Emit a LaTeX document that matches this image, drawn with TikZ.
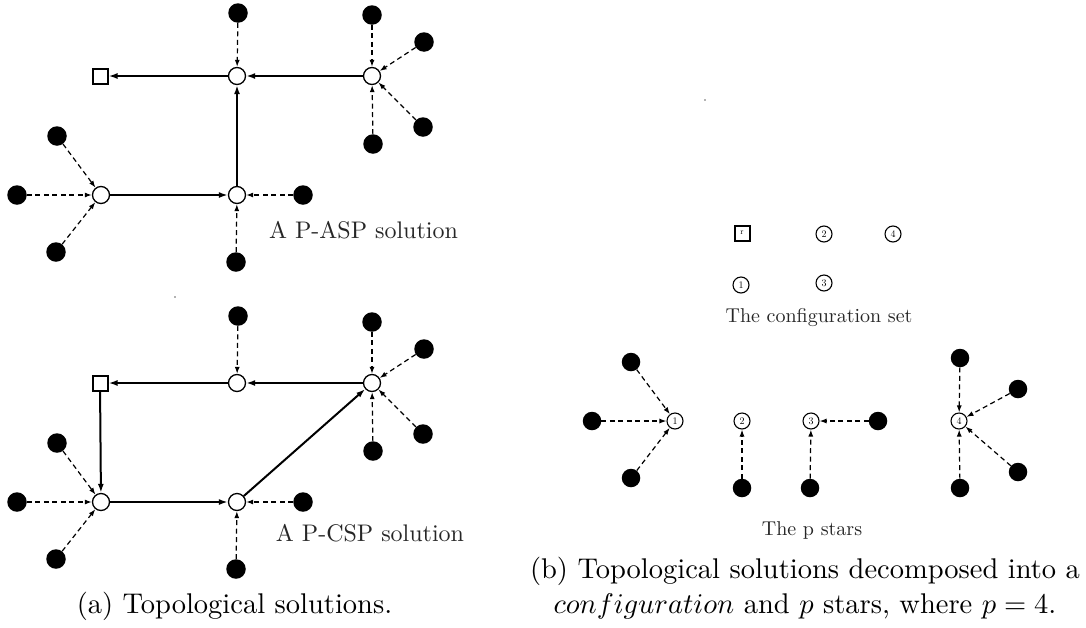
\documentclass[tikz,border=0pt]{standalone}
\usetikzlibrary{arrows.meta}
\begin{document}
\begin{tikzpicture}[x=1pt,y=-1pt,
  hub/.style={circle,draw,line width=1.3pt,fill=white,minimum size=17pt,inner sep=0pt},
  rootbox/.style={rectangle,draw,line width=2pt,fill=white,minimum size=15pt,inner sep=0pt},
  term/.style={circle,fill=black,minimum size=19.5pt,inner sep=0pt},
  shub/.style={circle,draw,line width=1.1pt,fill=white,minimum size=16pt,inner sep=0pt,font=\fontsize{10}{12}\selectfont},
  sterm/.style={circle,fill=black,minimum size=18.5pt,inner sep=0pt},
  link/.style={line width=2pt,-{Latex[length=9pt,width=6pt]}},
  feed/.style={line width=1.2pt,dash pattern=on 5pt off 3.5pt,-{Latex[length=7pt,width=5pt]}},
  basefont/.style={font=\fontsize{10}{12}\selectfont,inner sep=0pt},
  tag/.style={basefont,text=black!85},
  small/.style={basefont,text=black!85},
  captext/.style={basefont}]
\useasboundingbox (0,0) rectangle (1086,627);

% ---------- (a) P-ASP solution ----------
\node[rootbox] (r1) at (100,76) {};
\node[hub] (a1) at (237,76) {};
\node[hub] (b1) at (372,76) {};
\node[hub] (c1) at (101,195) {};
\node[hub] (d1) at (237,195) {};
\foreach \n/\p/\h in {ta/{(238,13)}/a1, tb/{(372,15)}/b1, tc/{(424,42)}/b1,
    td/{(423,127)}/b1, te/{(373,144)}/b1, tf/{(57,136)}/c1, tg/{(17,195)}/c1,
    th/{(56,252)}/c1, ti/{(303,195)}/d1, tj/{(236,262)}/d1} {
  \node[term] (\n1) at \p {};
  \draw[feed] (\n1) -- (\h);
}
\draw[link] (a1) -- (r1);
\draw[link] (b1) -- (a1);
\draw[link] (d1) -- (a1);
\draw[link] (c1) -- (d1);
\node[tag] (lab1) at (363.5,230) {\scalebox{2.4}{A P-ASP solution}};

% ---------- (a) P-CSP solution ----------
\node[rootbox] (r2) at (100,383) {};
\node[hub] (a2) at (237,383) {};
\node[hub] (b2) at (372,383) {};
\node[hub] (c2) at (101,502) {};
\node[hub] (d2) at (237,502) {};
\foreach \n/\p/\h in {ta/{(238,316)}/a2, tb/{(372,322)}/b2, tc/{(424,349)}/b2,
    td/{(423,434)}/b2, te/{(373,451)}/b2, tf/{(57,443)}/c2, tg/{(17,502)}/c2,
    th/{(56,559)}/c2, ti/{(303,502)}/d2, tj/{(236,569)}/d2} {
  \node[term] (\n2) at \p {};
  \draw[feed] (\n2) -- (\h);
}
\draw[link] (a2) -- (r2);
\draw[link] (b2) -- (a2);
\draw[link] (r2) -- (c2);
\draw[link] (c2) -- (d2);
\draw[link] (d2) -- (b2);
\node[tag] (lab2) at (370,533) {\scalebox{2.4}{A P-CSP solution}};

\node[captext,anchor=base] (capa) at (234.5,613) {\scalebox{2.85}{(a) Topological solutions.}};

% stray specks
\fill[black!60] (175,297) circle (0.8);
\fill[black!60] (705,100) circle (0.8);

% ---------- (b) configuration set ----------
\node[rootbox,font=\fontsize{8}{9}\selectfont] (cr) at (742,233) {r};
\node[shub] (c2n) at (824,234) {2};
\node[shub] (c4n) at (893,234) {4};
\node[shub] (c1n) at (741,285) {1};
\node[shub] (c3n) at (824,283) {3};
\node[small] (lab3) at (819,318) {\scalebox{2}{The configuration set}};

% ---------- (b) the p stars ----------
\node[shub] (s1) at (675,421) {1};
\node[shub] (s2) at (742,421) {2};
\node[shub] (s3) at (811,421) {3};
\node[shub] (s4) at (959,421) {4};
\foreach \n/\p/\h in {u1/{(631,362)}/s1, u2/{(592,421)}/s1, u3/{(631,478)}/s1,
    u4/{(742,488)}/s2, u5/{(878,421)}/s3, u6/{(810,488)}/s3,
    u7/{(960,358)}/s4, u8/{(1018,389)}/s4, u9/{(1018,472)}/s4, u10/{(960,488)}/s4} {
  \node[sterm] (\n) at \p {};
  \draw[feed] (\n) -- (\h);
}
\node[small] (lab4) at (812,530) {\scalebox{2}{The p stars}};

\node[captext,anchor=base] (capb1) at (805,578) {\scalebox{2.85}{(b) Topological solutions decomposed into a}};
\node[captext,anchor=base] (capb2) at (805,613) {\scalebox{2.85}{$configuration$ and $p$ stars, where $p=4$.}};
\end{tikzpicture}
\end{document}
